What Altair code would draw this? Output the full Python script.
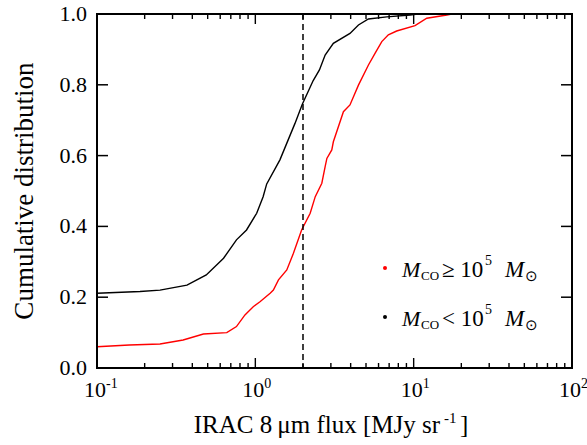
import altair as alt
import pandas as pd

# ---- data ----
black_x = [0.1, 0.187, 0.25, 0.37, 0.49, 0.63, 0.76, 0.88, 1.02, 1.12, 1.18, 1.43, 1.78, 1.98,
           2.32, 2.54, 2.76, 3.11, 3.96, 4.48, 5.18, 6.76, 9.5, 10.6]
black_y = [0.211, 0.216, 0.22, 0.234, 0.263, 0.31, 0.362, 0.39, 0.437, 0.484, 0.52, 0.588, 0.691, 0.745,
           0.812, 0.842, 0.884, 0.917, 0.945, 0.969, 0.986, 0.992, 0.997, 1.0]

red_x = [0.1, 0.16, 0.25, 0.35, 0.47, 0.66, 0.76, 0.86, 0.97, 1.07, 1.24, 1.30, 1.40, 1.58, 1.74,
         1.96, 2.22, 2.39, 2.63, 2.76, 2.83, 3.04, 3.11, 3.6, 3.96, 4.48, 5.18, 5.7, 6.29, 6.92,
         7.81, 10.2, 12.1, 16.2, 17.4]
red_y = [0.06, 0.065, 0.068, 0.079, 0.096, 0.10, 0.117, 0.15, 0.173, 0.187, 0.211, 0.22, 0.249, 0.277, 0.324,
         0.39, 0.437, 0.484, 0.522, 0.569, 0.592, 0.616, 0.639, 0.724, 0.743, 0.799, 0.856, 0.889, 0.922, 0.941,
         0.952, 0.967, 0.988, 0.997, 1.0]

threshold = [2.0]
x_domain = [0.1, 100]
y_domain = [0.0, 1.0]
major_x = [0.1, 1, 10, 100]
major_exp = ["-1", "0", "1", "2"]
minor_x = [0.2, 0.3, 0.4, 0.5, 0.6, 0.7, 0.8, 0.9,
           2, 3, 4, 5, 6, 7, 8, 9,
           20, 30, 40, 50, 60, 70, 80, 90]
y_ticks = [0.0, 0.2, 0.4, 0.6, 0.8, 1.0]
y_labels = ["0.0", "0.2", "0.4", "0.6", "0.8", "1.0"]

W, H = 475, 354
FONT = "Liberation Serif"

xscale = alt.Scale(type="log", domain=x_domain, nice=False)
yscale = alt.Scale(domain=y_domain, nice=False)

curves = pd.concat([
    pd.DataFrame({"flux": black_x, "cum": black_y, "grp": "low"}),
    pd.DataFrame({"flux": red_x, "cum": red_y, "grp": "high"}),
])

lines = alt.Chart(curves).mark_line(strokeWidth=1.4, clip=True).encode(
    x=alt.X("flux:Q", scale=xscale, axis=None),
    y=alt.Y("cum:Q", scale=yscale, axis=None),
    color=alt.Color("grp:N", scale=alt.Scale(domain=["low", "high"], range=["black", "red"]), legend=None),
    detail="grp:N",
)

thr = alt.Chart(pd.DataFrame({"t": threshold})).mark_rule(
    color="black", strokeWidth=1.5, strokeDash=[6, 4]).encode(
    x=alt.X("t:Q", scale=xscale, axis=None))

maj = pd.DataFrame({"v": major_x, "e": major_exp})
mino = pd.DataFrame({"v": minor_x})
yt = pd.DataFrame({"v": y_ticks, "lab": y_labels})
one = pd.DataFrame({"k": [0]})
box = pd.DataFrame({"x0": [x_domain[0]], "x1": [x_domain[1]], "y0": [y_domain[0]], "y1": [y_domain[1]]})

frame = alt.Chart(box).mark_rect(filled=False, stroke="black", strokeWidth=2, fillOpacity=0).encode(
    x=alt.X("x0:Q", scale=xscale, axis=None), x2="x1:Q",
    y=alt.Y("y0:Q", scale=yscale, axis=None), y2="y1:Q")


def xticks(df, y0, y1):
    return alt.Chart(df).mark_rule(color="black", strokeWidth=1.4).encode(
        x=alt.X("v:Q", scale=xscale, axis=None), y=alt.value(y0), y2=alt.value(y1))


def yticks(x0, x1):
    return alt.Chart(yt).mark_rule(color="black", strokeWidth=1.5).encode(
        y=alt.Y("v:Q", scale=yscale, axis=None), x=alt.value(x0), x2=alt.value(x1))


tick_layers = [
    xticks(maj, H, H - 10), xticks(maj, 0, 10),
    xticks(mino, H, H - 5), xticks(mino, 0, 5),
    yticks(0, 11), yticks(W - 11, W),
]

base_lab = alt.Chart(maj).mark_text(font=FONT, fontSize=22, align="center", baseline="alphabetic",
                                    dx=-2, color="black").encode(
    x=alt.X("v:Q", scale=xscale, axis=None), y=alt.value(H + 29), text=alt.value("10"))
exp_lab = alt.Chart(maj).mark_text(font=FONT, fontSize=14, align="left", baseline="alphabetic",
                                   dx=9, color="black").encode(
    x=alt.X("v:Q", scale=xscale, axis=None), y=alt.value(H + 20), text="e:N")

ylab = alt.Chart(yt).mark_text(font=FONT, fontSize=22, align="right", baseline="middle",
                               dx=0, color="black").encode(
    y=alt.Y("v:Q", scale=yscale, axis=None), x=alt.value(-10), text="lab:N")


def txt(s, x, y, size, italic=False, align="left", angle=0):
    return alt.Chart(one).mark_text(font=FONT, fontSize=size, align=align, baseline="alphabetic",
                                    color="black", angle=angle,
                                    fontStyle="italic" if italic else "normal").encode(
        x=alt.value(x), y=alt.value(y), text=alt.value(s))


ytitle = txt("Cumulative distribution", -64, H / 2, 27, align="center", angle=270)

xtitle = [
    txt("IRAC 8\u2009\u03bcm flux [MJy sr", 343, H + 65, 25, align="right"),
    txt("-1", 347, H + 55, 15),
    txt("]", 363, H + 65, 25),
]


def legend_entry(sym, color, y):
    dot = alt.Chart(one).mark_point(filled=True, size=16, color=color, opacity=1).encode(
        x=alt.value(288), y=alt.value(y - 9))
    return [
        dot,
        txt("M", 305, y, 22, italic=True),
        txt("CO", 324, y + 3, 13),
        txt(sym + " 10", 345, y, 23),
        txt("5", 388, y - 12, 14),
        txt("M", 408, y, 23, italic=True),
        txt("\u2299", 428, y + 4, 15),
    ]


legend = legend_entry("\u2265", "red", 263) + legend_entry("<", "black", 312)

chart = alt.layer(lines, thr, *tick_layers, base_lab, exp_lab, ylab, ytitle,
                  *xtitle, *legend, frame).properties(
    width=W, height=H,
    autosize=alt.AutoSizeParams(type="none"),
    padding={"left": 97, "top": 14, "right": 15, "bottom": 77},
).configure_view(stroke="black", strokeWidth=2).configure(background="white")

chart.save("out.html", embed_options={"renderer": "svg", "actions": False})
